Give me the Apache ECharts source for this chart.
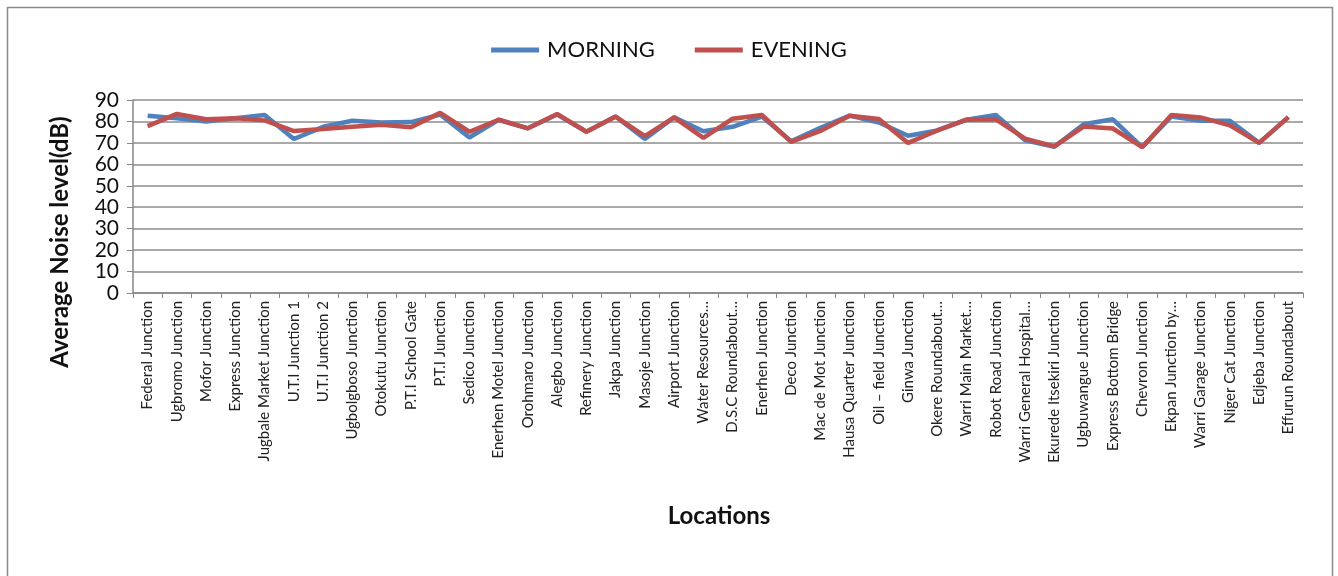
<!DOCTYPE html>
<html>
<head>
<meta charset="utf-8">
<script src="https://cdn.jsdelivr.net/npm/echarts@6/dist/echarts.min.js"></script>
<style>
  html, body { margin: 0; padding: 0; background: #fff; }
  #chart { width: 1338px; height: 576px; }
</style>
</head>
<body>
<div id="chart"></div>
<script>
// Traffic junctions surveyed
const locations = [
  'Federal Junction', 'Ugbromo Junction', 'Mofor Junction', 'Express Junction',
  'Jugbale Market Junction', 'U.T.I Junction 1', 'U.T.I Junction 2', 'Ugbolgboso Junction',
  'Otokutu Junction', 'P.T.I School Gate', 'P.T.I Junction', 'Sedico Junction',
  'Enerhen Motel Junction', 'Orohmaro Junction', 'Alegbo Junction', 'Refinery Junction',
  'Jakpa Junction', 'Masoje Junction', 'Airport Junction', 'Water Resources…',
  'D.S.C Roundabout…', 'Enerhen Junction', 'Deco Junction', 'Mac de Mot Junction',
  'Hausa Quarter Junction', 'Oil – field Junction', 'Ginwa Junction', 'Okere Roundabout…',
  'Warri Main Market…', 'Robot Road Junction', 'Warri General Hospital…', 'Ekurede Itsekiri Junction',
  'Ugbuwangue Junction', 'Express Bottom Bridge', 'Chevron Junction', 'Ekpan Junction by…',
  'Warri Garage Junction', 'Niger Cat Junction', 'Edjeba Junction', 'Effurun Roundabout'
];

// Average noise level (dB)
const morning = [
  82.7, 81.5, 80.0, 81.5, 83.0, 71.8, 77.5, 80.3, 79.5, 79.7,
  83.2, 72.5, 80.8, 76.8, 83.2, 75.2, 82.3, 71.8, 81.9, 75.4,
  77.5, 82.3, 70.8, 77.0, 82.7, 79.5, 73.3, 75.8, 80.8, 83.0,
  71.2, 68.2, 78.7, 81.0, 68.0, 82.3, 80.3, 80.3, 70.0, 82.0
];
const evening = [
  77.8, 83.5, 81.0, 81.5, 80.5, 75.5, 76.5, 77.5, 78.5, 77.3,
  84.0, 75.2, 80.8, 76.8, 83.5, 75.2, 82.3, 73.2, 81.9, 72.3,
  81.3, 83.0, 70.5, 75.6, 82.7, 81.1, 70.0, 75.8, 80.8, 81.0,
  72.0, 68.4, 77.6, 76.7, 68.0, 83.0, 81.9, 78.2, 70.0, 82.0
];

const yTicks = { min: 0, max: 90, step: 10 };

const chart = echarts.init(document.getElementById('chart'), null, { renderer: 'canvas' });

chart.setOption({
  backgroundColor: '#ffffff',
  animation: false,
  legend: {
    top: 34,
    left: 'center',
    itemWidth: 48,
    itemHeight: 5,
    itemGap: 40,
    icon: 'rect',
    textStyle: { fontFamily: 'Lato', fontSize: 22, color: '#111', padding: [0, 0, 0, 3] },
    data: ['MORNING', 'EVENING']
  },
  grid: { left: 133, right: 35, top: 100, bottom: 283 },
  xAxis: {
    type: 'category',
    data: locations,
    boundaryGap: true,
    axisLine: { lineStyle: { color: '#888', width: 1.5 } },
    axisTick: { show: true, length: 5, lineStyle: { color: '#888' } },
    axisLabel: {
      interval: 0,
      rotate: 90,
      fontFamily: 'Lato',
      fontSize: 15,
      color: '#222',
      margin: 8
    }
  },
  yAxis: {
    type: 'value',
    min: yTicks.min,
    max: yTicks.max,
    interval: yTicks.step,
    axisLine: { show: true, lineStyle: { color: '#888', width: 1.5 } },
    axisTick: { show: true, length: 6, lineStyle: { color: '#888' } },
    splitLine: { lineStyle: { color: '#8c8c8c', width: 1.5 } },
    axisLabel: { fontFamily: 'Lato', fontSize: 21, color: '#111', margin: 14 }
  },
  series: [
    {
      name: 'MORNING',
      type: 'line',
      data: morning,
      showSymbol: false,
      symbol: 'none',
      color: '#4f81bd',
      lineStyle: { width: 4.5, color: '#4f81bd' }
    },
    {
      name: 'EVENING',
      type: 'line',
      data: evening,
      showSymbol: false,
      symbol: 'none',
      color: '#c0504d',
      lineStyle: { width: 4.5, color: '#c0504d' }
    }
  ],
  graphic: [
    {
      type: 'rect',
      shape: { x: 7.5, y: 7.5, width: 1325, height: 580 },
      style: { fill: 'none', stroke: '#8a8a8a', lineWidth: 1.5 },
      silent: true
    },
    {
      type: 'text',
      x: 60,
      y: 242,
      rotation: Math.PI / 2,
      style: {
        text: 'Average Noise level(dB)',
        font: 'bold 24px Lato',
        fill: '#111',
        align: 'center',
        verticalAlign: 'middle'
      }
    },
    {
      type: 'text',
      x: 719,
      y: 516,
      style: {
        text: 'Locations',
        font: 'bold 24px Lato',
        fill: '#111',
        align: 'center',
        verticalAlign: 'middle'
      }
    }
  ]
});
</script>
</body>
</html>
